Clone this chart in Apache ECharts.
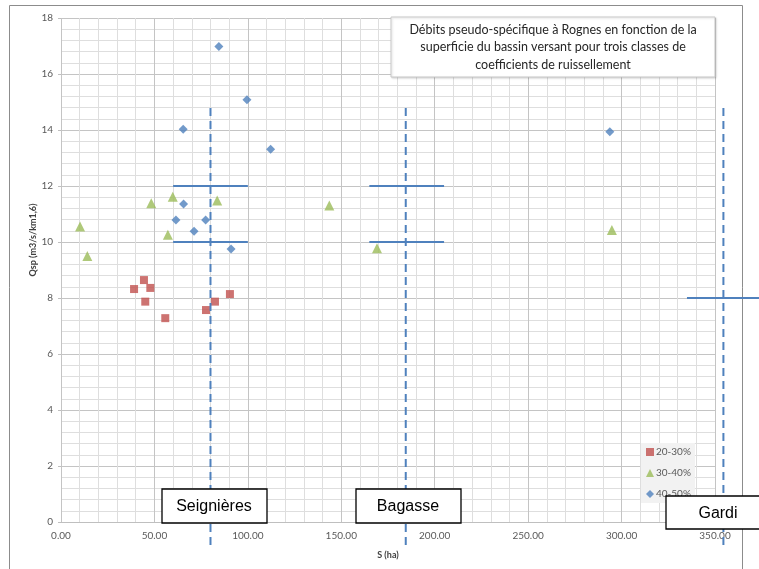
<!DOCTYPE html>
<html>
<head>
<meta charset="utf-8">
<script src="https://cdn.jsdelivr.net/npm/echarts@6/dist/echarts.min.js"></script>
<style>
  html, body { margin: 0; padding: 0; background: #fff; }
  #chart { width: 759px; height: 569px; }
</style>
</head>
<body>
<div id="chart"></div>
<script>
// données : [S (ha), Qsp]
const serie2030 = [[39.1, 8.32], [44.4, 8.64], [47.8, 8.36], [45.1, 7.87], [55.8, 7.28], [77.6, 7.57], [82.4, 7.87], [90.4, 8.14]];
const serie3040 = [[10.2, 10.55], [14.1, 9.5], [48.3, 11.38], [59.8, 11.62], [83.6, 11.48], [57.2, 10.26], [143.6, 11.3], [169.1, 9.78], [294.8, 10.43]];
const serie4050 = [[84.5, 16.98], [65.4, 14.03], [99.5, 15.08], [112.2, 13.31], [65.6, 11.36], [61.5, 10.79], [77.4, 10.79], [71.2, 10.38], [91.0, 9.75], [293.7, 13.94]];
const seriesNames = ["20-30%", "30-40%", "40-50%"];

// bassins : position du trait vertical
const bassins = ["Seignières", "Bagasse", "Gardi"];
const bassinS = [80, 184.5, 354.5];

var titre = "Débits pseudo-spécifique à Rognes en fonction de la\nsuperficie du bassin versant pour trois classes de\ncoefficients de ruissellement";

var myChart = echarts.init(document.getElementById("chart"));
var font = "Lato, 'Open Sans', sans-serif";
var option = {
  animation: false,
  grid: { left: 61, right: 44, top: 18, bottom: 47 },
  legend: {
    orient: "vertical",
    left: 641,
    top: 443,
    padding: [4, 4, 4, 5],
    backgroundColor: "#f2f2f2",
    itemWidth: 8,
    itemHeight: 8,
    itemGap: 11,
    textStyle: { fontFamily: font, fontSize: 10, color: "#595959", padding: [0, 0, 0, -3] },
    data: seriesNames,
  },
  xAxis: {
    type: "value",
    min: 0,
    max: 350,
    interval: 50,
    name: "S (ha)",
    nameLocation: "middle",
    nameGap: 29,
    nameTextStyle: { fontFamily: font, fontSize: 9, fontWeight: "bold", color: "#404040" },
    axisLine: { show: true, lineStyle: { color: "#bfbfbf" } },
    axisTick: { show: false },
    axisLabel: {
      fontFamily: font, fontSize: 10, color: "#595959", margin: 9,
      formatter: function (v) { return v.toFixed(2); },
    },
    splitLine: { show: true, lineStyle: { color: "#c4c4c4" } },
    minorTick: { show: false, splitNumber: 5 },
    minorSplitLine: { show: true, lineStyle: { color: "#dedede" } },
  },
  yAxis: {
    type: "value",
    min: 0,
    max: 18,
    interval: 2,
    axisLine: { show: false },
    axisTick: { show: true, length: 3, lineStyle: { color: "#bfbfbf" } },
    axisLabel: { fontFamily: font, fontSize: 10, color: "#595959", margin: 8 },
    splitLine: { show: true, lineStyle: { color: "#c4c4c4" } },
    minorTick: { show: false, splitNumber: 5 },
    minorSplitLine: { show: true, lineStyle: { color: "#dedede" } },
  },
  series: [
    { name: seriesNames[0], type: "scatter", symbol: "rect", symbolSize: 8, data: serie2030, itemStyle: { color: "#c0504d" } },
    { name: seriesNames[1], type: "scatter", symbol: "triangle", symbolSize: 10, data: serie3040, itemStyle: { color: "#9bbb59" } },
    { name: seriesNames[2], type: "scatter", symbol: "diamond", symbolSize: 9, data: serie4050, itemStyle: { color: "#4f81bd" } },
  ],
};
myChart.setOption(option);

// annotations dessinées par-dessus le graphique
function px(x, y) { return myChart.convertToPixel({ gridIndex: 0 }, [x, y]); }
var bleu = "#4f81bd";
var g = [];
// cadre du graphique Excel
g.push({ type: "polyline", shape: { points: [[9.5, 569], [9.5, 5.5], [742.5, 5.5], [742.5, 569]] }, style: { stroke: "#8c8c8c", fill: null, lineWidth: 1 }, z: 10 });
// titre de l'axe vertical
g.push({ type: "text", x: 33, y: 240, rotation: Math.PI / 2, style: { text: "Qsp (m3/s/km1,6)", font: "bold 9px Lato, 'Open Sans', sans-serif", fill: "#404040", align: "center", verticalAlign: "middle" }, z: 10 });
// boîte du titre
g.push({ type: "rect", shape: { x: 391, y: 17, width: 324, height: 60 }, style: { fill: "#fff", stroke: "#c8c8c8", lineWidth: 1, shadowBlur: 2, shadowColor: "rgba(0,0,0,0.15)", shadowOffsetX: 1, shadowOffsetY: 1 }, z: 10 });
g.push({ type: "text", x: 553, y: 47, style: { text: titre, font: "12.5px Lato, 'Open Sans', sans-serif", fill: "#262626", align: "center", verticalAlign: "middle", lineHeight: 17.5 }, z: 11 });
// traits verticaux en pointillés
bassinS.forEach(function (s) {
  var p = px(s, 0);
  g.push({ type: "line", shape: { x1: p[0], y1: 108, x2: p[0], y2: 549 }, style: { stroke: bleu, lineWidth: 2, lineDash: [8, 5] }, z: 12 });
});
// paliers horizontaux
[[60, 100, 12], [60, 100, 10], [165, 205, 12], [165, 205, 10], [335, 380, 8]].forEach(function (h) {
  var a = px(h[0], h[2]), b = px(h[1], h[2]);
  g.push({ type: "line", shape: { x1: a[0], y1: a[1], x2: Math.min(b[0], 759), y2: b[1] }, style: { stroke: bleu, lineWidth: 2 }, z: 12 });
});
// étiquettes des bassins
var boites = [[162, 489, 105, 34], [356, 489, 105, 34], [666, 496, 110, 33]];
bassins.forEach(function (nom, i) {
  var b = boites[i];
  g.push({ type: "rect", shape: { x: b[0], y: b[1], width: b[2], height: b[3] }, style: { fill: "#fff", stroke: "#000", lineWidth: 1.3 }, z: 13 });
  g.push({ type: "text", x: b[0] + 52, y: b[1] + b[3] / 2 + 1, style: { text: nom, font: "16px 'Liberation Sans', Arial, sans-serif", fill: "#000", align: "center", verticalAlign: "middle" }, z: 14 });
});
myChart.setOption({ graphic: g });
window.addEventListener("resize", function () { myChart.resize(); });
</script>
</body>
</html>
